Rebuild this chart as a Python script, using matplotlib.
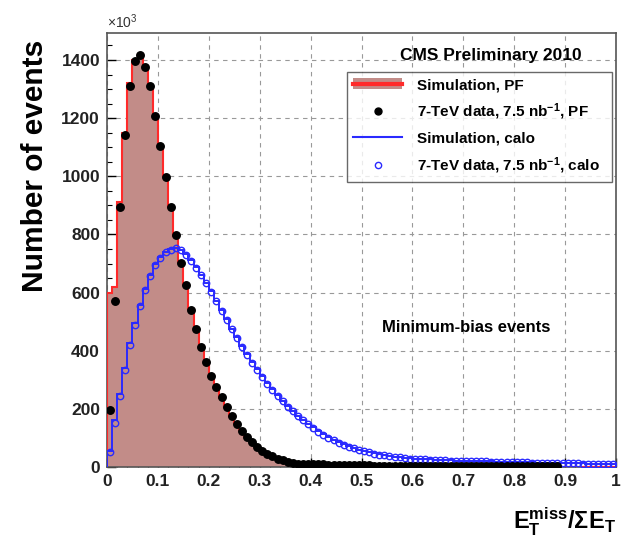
import numpy as np
import matplotlib
matplotlib.use("Agg")
import matplotlib.pyplot as plt
from matplotlib.lines import Line2D
from matplotlib.patches import Patch

plt.rcParams['font.family'] = ['Liberation Sans', 'DejaVu Sans']
plt.rcParams['mathtext.fontset'] = 'custom'
plt.rcParams['mathtext.rm'] = 'Liberation Sans'
plt.rcParams['mathtext.bf'] = 'Liberation Sans:bold'
plt.rcParams['mathtext.it'] = 'Liberation Sans:italic'

# 100 bins of width 0.01 on [0, 1]
edges = np.linspace(0, 1, 101)

# PF: simulation (filled histogram) and data (black points), in units of 10^3
sim_pf = [600, 620, 910, 1150, 1320, 1400, 1420, 1380, 1305, 1205,
          1100, 1000, 895, 795, 705, 625, 545, 475, 415, 362,
          315, 272, 238, 205, 175, 150, 126, 105, 86, 71,
          57, 46, 37, 30, 24, 19, 15, 12, 11, 10,
          9, 9, 8, 8, 7, 7, 6, 6, 6, 5,
          5, 5, 5, 4, 4, 4, 4, 4, 3, 3,
          3, 3, 3, 3, 3, 3, 3, 3, 2, 2,
          2, 2, 2, 2, 2, 2, 2, 2, 2, 2,
          2, 2, 2, 2, 2, 2, 1, 1, 1, 1,
          1, 1, 1, 1, 1, 1, 1, 1, 1, 1]
data_pf = [196, 572, 895, 1142, 1310, 1398, 1417, 1377, 1310, 1208,
           1104, 999, 893, 798, 701, 626, 540, 475, 412, 360,
           313, 274, 240, 207, 176, 148, 125, 104, 85, 70,
           56, 46, 37, 29, 23, 18, 14, 12, 11, 10,
           10, 9, 9, 8, 8, 7, 7, 7, 6, 6,
           6, 6, 5, 5, 5, 5, 5, 4, 4, 4,
           4, 4, 4, 4, 4, 3, 3, 3, 3, 3,
           3, 3, 3, 3, 3, 3, 3, 3, 3, 3,
           3, 3, 3, 3, 3, 3, 3, 3, 3, 0,
           0, 0, 0, 0, 0, 0, 0, 0, 0, 0]

# calo: simulation (blue line) and data (open circles)
sim_calo = [55, 160, 250, 340, 425, 495, 558, 612, 660, 697,
            722, 740, 750, 755, 748, 733, 712, 688, 662, 634,
            604, 572, 540, 508, 476, 446, 416, 388, 361, 336,
            312, 289, 267, 247, 228, 210, 193, 177, 162, 149,
            136, 124, 113, 103, 94, 86, 78, 71, 65, 60,
            55, 51, 47, 44, 41, 38, 36, 34, 32, 30,
            29, 28, 27, 26, 25, 24, 23, 23, 22, 22,
            21, 21, 20, 20, 19, 19, 18, 18, 18, 17,
            17, 16, 16, 16, 15, 15, 15, 14, 14, 14,
            13, 13, 13, 13, 12, 12, 12, 12, 11, 11]
data_calo = [50, 150, 245, 335, 420, 490, 554, 609, 658, 695,
             720, 738, 748, 752, 745, 730, 710, 686, 660, 632,
             602, 570, 538, 506, 474, 444, 414, 386, 359, 334,
             310, 287, 265, 245, 226, 208, 191, 175, 160, 147,
             134, 122, 111, 101, 92, 84, 77, 70, 64, 59,
             54, 50, 46, 43, 40, 37, 35, 33, 31, 29,
             28, 27, 26, 25, 24, 23, 23, 22, 22, 21,
             21, 20, 20, 19, 19, 18, 18, 18, 17, 17,
             16, 16, 16, 15, 15, 15, 14, 14, 14, 13,
             13, 13, 13, 12, 12, 12, 12, 11, 11, 11]

legend_labels = ['Simulation, PF',
                 r'7-TeV data, 7.5 nb$^{\mathbf{-1}}$, PF',
                 'Simulation, calo',
                 r'7-TeV data, 7.5 nb$^{\mathbf{-1}}$, calo']

centers = 0.5 * (edges[:-1] + edges[1:])
data_pf = np.array(data_pf, dtype=float)
pf_mask = data_pf > 0

fig = plt.figure(figsize=(6.23, 5.37), dpi=100)
ax = fig.add_axes([107 / 623, 1 - 467 / 537, 509 / 623, 434 / 537])

fill_col = '#c28c88'
red = '#ff2a2a'
blue = '#2a2aff'

ax.stairs(sim_pf, edges, fill=True, color=fill_col, zorder=2)
ax.stairs(sim_pf, edges, color=red, lw=1.5, zorder=3)
ax.stairs(sim_calo, edges, color=blue, lw=1.4, zorder=4)
ax.plot(centers, data_calo, 'o', ms=4.6, mfc='none', mec=blue, mew=1.0, zorder=5)
ax.plot(centers[pf_mask], data_pf[pf_mask], 'o', ms=5.4, color='black', zorder=6)

ax.set_xlim(0, 1)
ax.set_ylim(0, 1493)
ax.set_xticks(np.arange(0, 1.01, 0.1))
ax.set_xticklabels(['0', '0.1', '0.2', '0.3', '0.4', '0.5', '0.6', '0.7', '0.8', '0.9', '1'])
ax.set_xticks(np.arange(0, 1.001, 0.02), minor=True)
ax.set_yticks(np.arange(0, 1401, 200))
ax.set_yticks(np.arange(0, 1490, 50), minor=True)
ax.tick_params(which='both', direction='in', labelsize=12.5)
ax.tick_params(which='major', length=6.5, width=1)
ax.tick_params(which='minor', length=3.5, width=0.8)
ax.tick_params(axis='x', pad=5)
ax.tick_params(axis='y', pad=5)
for lab in ax.get_xticklabels() + ax.get_yticklabels():
    lab.set_fontweight('bold')
    lab.set_color('#222222')
ax.grid(True, which='major', ls=(0, (4, 4)), color='#999999', lw=0.8, zorder=1)
ax.set_axisbelow(True)
for sp in ax.spines.values():
    sp.set_color('#555555')
    sp.set_linewidth(1.2)

fig.text(35 / 623, 1 - 166 / 537, 'Number of events', rotation=90,
         fontsize=21.5, fontweight='bold', ha='center', va='center')
fig.text(616 / 623, 1 - 522 / 537, r'$\mathbf{E_{T}^{miss}/\Sigma E_{T}}$',
         fontsize=17, ha='right', va='center')
fig.text(107 / 623, 1 - 22 / 537, r'$\times10^{3}$', fontsize=10, ha='left', va='center',
         color='#333333')

ax.text(0.755, 0.949, 'CMS Preliminary 2010', transform=ax.transAxes,
        fontsize=12.5, fontweight='bold', ha='center', va='center')
ax.text(0.705, 0.322, 'Minimum-bias events', transform=ax.transAxes,
        fontsize=12, fontweight='bold', ha='center', va='center')

handles = [
    (Patch(facecolor=fill_col, edgecolor='none'), Line2D([], [], color=red, lw=3)),
    Line2D([], [], ls='none', marker='o', ms=5, color='black'),
    Line2D([], [], color=blue, lw=1.5),
    Line2D([], [], ls='none', marker='o', ms=4.5, mfc='none', mec=blue),
]
leg = ax.legend(handles, legend_labels, loc='upper left',
                bbox_to_anchor=(0.4715, 0.657, 0.5205, 0.253), mode='expand',
                prop={'weight': 'bold', 'size': 11}, frameon=True, fancybox=False,
                borderaxespad=0, handlelength=3.2, handletextpad=1.0,
                labelspacing=0.62, borderpad=0.4)
leg.get_frame().set_edgecolor('#444444')
leg.get_frame().set_linewidth(1.0)

fig.savefig('out.png', dpi=100)
